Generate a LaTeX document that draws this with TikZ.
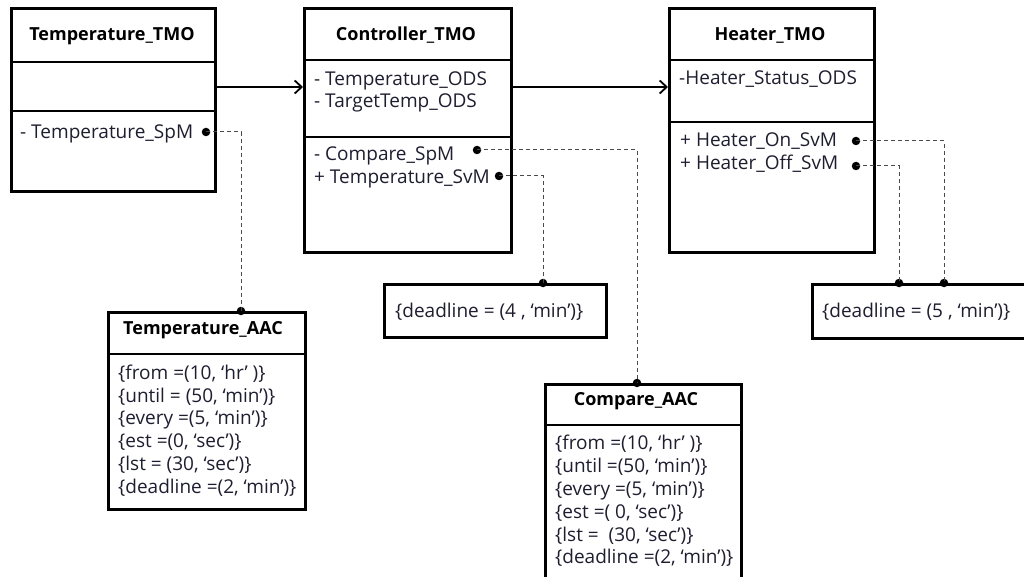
\documentclass[tikz,border=0pt]{standalone}
\usepackage{fontspec}
\setmainfont{Open Sans}
\usetikzlibrary{arrows.meta}
\definecolor{txt}{HTML}{1E1E30}
\definecolor{conncol}{HTML}{4A4A4A}
\begin{document}
\begin{tikzpicture}[x=1pt,y=-1pt,
  box/.style={draw, line width=2.6pt, rectangle, anchor=north west, inner sep=0pt},
  divider/.style={line width=1.6pt},
  title/.style={font=\bfseries\fontsize{18}{20}\selectfont, inner sep=0pt, text height=12.8pt, text depth=0pt, text=black},
  item/.style={font=\fontsize{19}{21}\selectfont, anchor=west, inner sep=0pt, text height=13.5pt, text depth=0pt, text=txt},
  dot/.style={circle, fill=black, inner sep=0pt, minimum size=8.5pt},
  conn/.style={dash pattern=on 4pt off 3pt, line width=1pt, draw=conncol},
  flow/.style={line width=1.8pt, -{Straight Barb[length=7pt,width=13pt,line width=1.8pt]}}
]
\useasboundingbox (0,0) rectangle (1024,577);
\fill[white] (0,0) rectangle (1024,577);

% ---------- Temperature_TMO ----------
\node[box, minimum width=204pt, minimum height=183pt] (ttmo) at (10,7) {};
\draw[divider] (10,62) -- (214,62);
\draw[divider] (10,111) -- (214,111);
\node[title] (ttmoT) at (112,34) {Temperature\_TMO};
\node[item] (ttmoA) at (20,132) {- Temperature\_SpM};
\node[dot] (dTS) at (206,132) {};

% ---------- Controller_TMO ----------
\node[box, minimum width=207pt, minimum height=244pt] (ctmo) at (303,7) {};
\draw[divider] (303,60) -- (510,60);
\draw[divider] (303,137) -- (510,137);
\node[title] (ctmoT) at (406,34) {Controller\_TMO};
\node[item] (ctmoA) at (314,79) {- Temperature\_ODS};
\node[item] (ctmoB) at (314,101) {- TargetTemp\_ODS};
\node[item] (ctmoC) at (314,154) {- Compare\_SpM};
\node[item] (ctmoD) at (314,177) {+ Temperature\_SvM};
\node[dot] (dCS) at (477,150) {};
\node[dot] (dTV) at (499,176) {};

% ---------- Heater_TMO ----------
\node[box, minimum width=205pt, minimum height=244pt] (htmo) at (668,7) {};
\draw[divider] (668,60) -- (873,60);
\draw[divider] (668,122) -- (873,122);
\node[title] (htmoT) at (770,34) {Heater\_TMO};
\node[item] (htmoA) at (679,78) {-Heater\_Status\_ODS};
\node[item] (htmoB) at (680,140) {+ Heater\_On\_SvM};
\node[item] (htmoC) at (680,163) {+ Heater\_Off\_SvM};
\node[dot] (dOn) at (856,141) {};
\node[dot] (dOff) at (856,166) {};

% ---------- flows ----------
\draw[flow] (ttmo.east |- 0,87) -- (ctmo.west |- 0,87);
\draw[flow] (ctmo.east |- 0,87) -- (htmo.west |- 0,87);

% ---------- Temperature_AAC ----------
\node[box, minimum width=197pt, minimum height=197pt] (taac) at (107,311) {};
\draw[divider] (107,354) -- (304,354);
\node[title] (taacT) at (203,328) {Temperature\_AAC};
\node[item] (taac1) at (118,373) {\{from =(10, ‘hr’ )\}};
\node[item] (taac2) at (118,396) {\{until = (50, ‘min’)\}};
\node[item] (taac3) at (118,418) {\{every =(5, ‘min’)\}};
\node[item] (taac4) at (118,441) {\{est =(0, ‘sec’)\}};
\node[item] (taac5) at (118,464) {\{lst = (30, ‘sec’)\}};
\node[item] (taac6) at (118,487) {\{deadline =(2, ‘min’)\}};
\node[dot] (dTaac) at (241,311) {};

% ---------- Compare_AAC ----------
\node[box, minimum width=196pt, minimum height=220pt] (caac) at (544,383) {};
\draw[divider] (544,425) -- (740,425);
\node[title] (caacT) at (636,399) {Compare\_AAC};
\node[item] (caac1) at (555,443) {\{from =(10, ‘hr’ )\}};
\node[item] (caac2) at (555,466) {\{until =(50, ‘min’)\}};
\node[item] (caac3) at (555,489) {\{every =(5, ‘min’)\}};
\node[item] (caac4) at (555,512) {\{est =( 0, ‘sec’)\}};
\node[item] (caac5) at (555,535) {\{lst = \ (30, ‘sec’)\}};
\node[item] (caac6) at (555,557) {\{deadline =(2, ‘min’)\}};
\node[dot] (dCaac) at (637,383) {};

% ---------- deadline boxes ----------
\node[box, minimum width=222pt, minimum height=53pt] (dl1) at (383,283) {};
\node[item] (dl1T) at (395,311) {\{deadline = (4 , ‘min’)\}};
\node[dot] (dDl1) at (543,283) {};

\node[box, minimum width=220pt, minimum height=54pt] (dl2) at (811,283) {};
\node[item] (dl2T) at (822,311) {\{deadline = (5 , ‘min’)\}};
\node[dot] (dDl2a) at (899,283) {};
\node[dot] (dDl2b) at (944,283) {};

% ---------- dashed connectors ----------
\draw[conn] (dTS.center) -| (dTaac.center);
\draw[conn] (dCS.center) -| (dCaac.center);
\draw[conn] (dTV.center) -| (dDl1.center);
\draw[conn] (dOn.center) -| (dDl2b.center);
\draw[conn] (dOff.center) -| (dDl2a.center);
\end{tikzpicture}
\end{document}
